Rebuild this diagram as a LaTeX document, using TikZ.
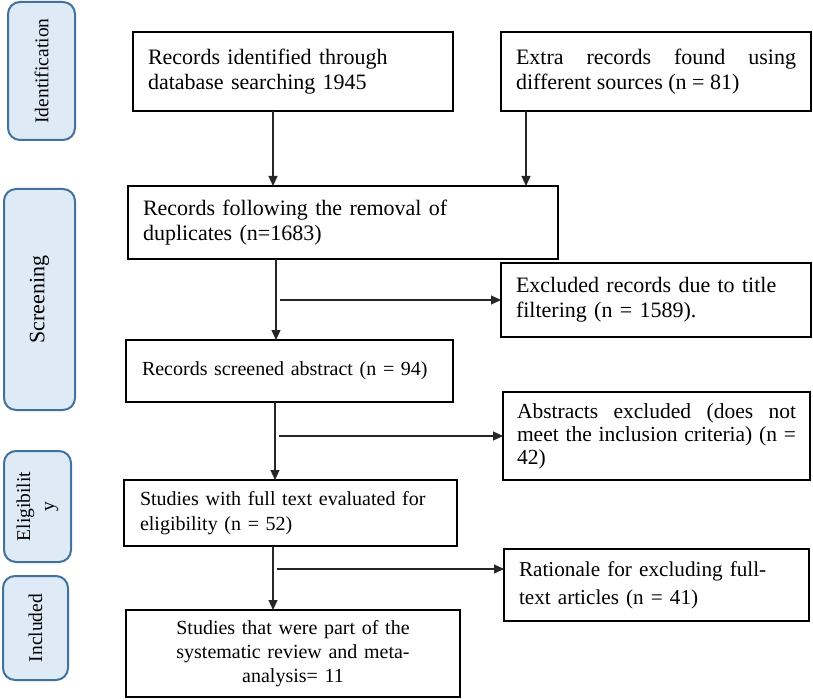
\documentclass[tikz,border=0pt]{standalone}
\usepackage{fontspec}
\setmainfont{Liberation Serif}
\usetikzlibrary{arrows.meta}
\definecolor{sideblue}{RGB}{65,113,156}
\definecolor{sidefill}{RGB}{222,235,247}
\begin{document}
\begin{tikzpicture}[x=1pt,y=-1pt,
  mbox/.style={draw, line width=1.8pt, anchor=north west, outer sep=0pt, inner ysep=2pt, inner xsep=15pt, font=\fontsize{22}{25}\selectfont},
  fsmall/.style={font=\fontsize{20}{25}\selectfont},
  side/.style={draw=sideblue, fill=sidefill, line width=2pt, rounded corners=12pt, outer sep=0pt, inner sep=0pt, rotate=90, align=center, font=\fontsize{19.5}{24}\selectfont},
  arr/.style={line width=1.2pt, draw=black!85, -{Triangle[length=10pt,width=9pt]}}]
\useasboundingbox (0,0) rectangle (813,700);

% side labels
\node[side, minimum width=138pt, minimum height=67pt] (sid) at (41.5,71) {Identification};
\node[side, minimum width=221pt, minimum height=71pt, font=\fontsize{22}{24}\selectfont] (sscr) at (39.5,299.5) {Screening};
\node[side, minimum width=111pt, minimum height=67pt] (selig) at (37.5,506.5) {Eligibilit\\y};
\node[side, minimum width=104pt, minimum height=65pt] (sinc) at (35.5,628) {Included};

% main boxes
\node[mbox, minimum width=320pt, minimum height=79pt, text width=290pt, align=left] (b1) at (133,32)
  {Records identified through\\database searching 1945};
\node[mbox, minimum width=310pt, minimum height=79pt, text width=280pt, align=justify] (b2) at (501,32)
  {Extra records found using\linebreak different sources (n = 81)};
\node[mbox, minimum width=430pt, minimum height=73pt, text width=400pt, align=left] (b3) at (128,186)
  {Records following the removal of\\duplicates (n=1683)};
\node[mbox, fsmall, minimum width=327pt, minimum height=62pt, inner xsep=16pt, text width=295pt, align=left] (b4) at (126,340)
  {Records screened abstract (n = 94)};
\node[mbox, minimum width=310pt, minimum height=74pt, text width=280pt, align=left] (b5) at (501,263)
  {Excluded records due to title\\filtering (n = 1589).};
\node[mbox, minimum width=307pt, minimum height=88pt, inner xsep=14pt, text width=279pt, align=justify, font=\fontsize{21.5}{23}\selectfont] (b6) at (503,392)
  {Abstracts excluded (does not\linebreak meet the inclusion criteria) (n =\linebreak 42)};
\node[mbox, fsmall, minimum width=333pt, minimum height=66pt, inner xsep=16pt, text width=301pt, align=left] (b7) at (124,480)
  {Studies with full text evaluated for\\eligibility (n = 52)};
\node[mbox, font=\fontsize{21.2}{28}\selectfont, minimum width=305pt, minimum height=72pt, text width=275pt, align=left] (b8) at (504,549)
  {Rationale for excluding full-\\text articles (n = 41)};
\node[mbox, font=\fontsize{20}{24}\selectfont, minimum width=334pt, minimum height=87pt, text width=304pt, align=center] (b9) at (126,610)
  {Studies that were part of the\\systematic review and meta-\\analysis= 11};

% connectors
\draw[arr] ([xshift=-20pt]b1.south) -- ([xshift=-20pt]b1.south |- b3.north);
\draw[arr] ([xshift=25pt]b2.south west) -- ([xshift=25pt]b2.south west |- b3.north);
\draw[arr] ([xshift=148pt]b3.south west) -- ([xshift=148pt]b3.south west |- b4.north);
\coordinate (s1) at ([xshift=152pt]b3.south west |- b5.west);
\draw[arr] (s1) -- (b5.west);
\draw[arr] ([xshift=149pt]b4.south west) -- ([xshift=149pt]b4.south west |- b7.north);
\coordinate (s2) at ([xshift=153pt]b4.south west |- b6.west);
\draw[arr] (s2) -- (b6.west);
\draw[arr] ([xshift=149pt]b7.south west) -- ([xshift=149pt]b7.south west |- b9.north);
\coordinate (s3) at ([xshift=153pt,yshift=16pt]b7.south west |- b8.west);
\draw[arr] (s3) -- (b8.west |- s3);
\end{tikzpicture}
\end{document}
